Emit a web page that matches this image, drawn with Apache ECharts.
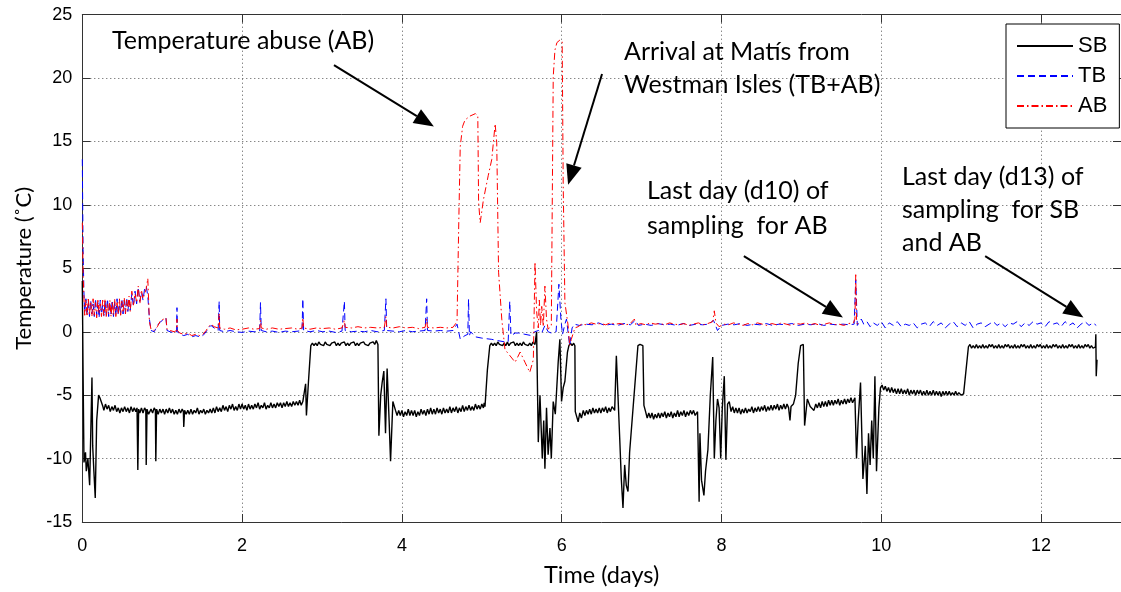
<!DOCTYPE html>
<html>
<head>
<meta charset="utf-8">
<script src="https://cdn.jsdelivr.net/npm/echarts@6/dist/echarts.min.js"></script>
<style>
html,body{margin:0;padding:0;background:#fff;}
#chart{width:1121px;height:592px;}
</style>
</head>
<body>
<div id="chart"></div>
<script>
// ---- Data (time in days, temperature in degC) ----
const xTicks = [0, 2, 4, 6, 8, 10, 12];
const yTicks = [-15, -10, -5, 0, 5, 10, 15, 20, 25];
const seriesNames = ['SB', 'TB', 'AB'];

const sbPoints = [
[0,4.0],[0.009,-2.8],[0.021,-10.3],[0.04,-9.5],[0.05,-11],[0.07,-10],[0.092,-12.1],[0.121,-3.6],[0.13,-9],[0.145,-11],[0.162,-13.1],[0.18,-7],[0.204,-5.0],[0.22,-5.2],[0.258,-5.9],
[0.27,-6.2],[0.29,-5.7],[0.31,-6.1],[0.33,-5.8],[0.35,-6.3],[0.37,-5.9],[0.39,-6.2],[0.41,-5.8],[0.43,-6.3],[0.45,-6.0],[0.47,-6.4],[0.49,-6.0],[0.51,-6.3],[0.53,-5.9],[0.55,-6.3],[0.57,-6.0],[0.59,-6.4],[0.61,-5.9],[0.63,-6.3],[0.65,-6.0],[0.67,-6.3],[0.685,-6.0],[0.695,-10.9],[0.705,-6.1],[0.72,-6.4],[0.74,-6.0],[0.76,-6.4],[0.78,-6.0],[0.795,-6.2],[0.80,-10.5],[0.81,-6.1],[0.83,-6.5],[0.86,-6.1],[0.88,-6.4],[0.90,-6.0],[0.915,-6.2],[0.92,-10.2],[0.93,-6.1],[0.95,-6.5],[0.97,-6.1],[0.99,-6.4],
[1.01,-6.1],[1.03,-6.5],[1.05,-6.1],[1.07,-6.4],[1.09,-6.0],[1.11,-6.4],[1.13,-6.1],[1.15,-6.5],[1.17,-6.2],[1.19,-6.5],[1.21,-6.1],[1.23,-6.4],[1.25,-6.1],[1.265,-6.3],[1.27,-7.5],[1.28,-6.2],[1.30,-6.5],[1.32,-6.2],[1.34,-6.5],[1.36,-6.1],[1.38,-6.5],[1.40,-6.2],[1.42,-6.4],[1.44,-6.0],[1.46,-6.5],[1.48,-6.2],[1.50,-6.4],[1.52,-6.1],[1.54,-6.5],[1.56,-6.2],[1.58,-6.4],[1.60,-6.1],[1.62,-6.4],[1.64,-6.0],[1.66,-6.4],[1.68,-5.9],[1.70,-6.3],[1.72,-6.0],[1.74,-6.3],[1.76,-5.8],[1.78,-6.2],[1.80,-5.9],[1.82,-6.3],[1.84,-5.8],[1.86,-6.1],[1.88,-5.7],[1.90,-6.2],[1.92,-5.9],[1.94,-6.2],[1.96,-5.7],[1.98,-6.1],
[2.00,-5.7],[2.02,-6.1],[2.04,-5.8],[2.06,-6.2],[2.08,-5.7],[2.10,-6.1],[2.12,-5.8],[2.14,-6.1],[2.16,-5.7],[2.18,-6.0],[2.20,-5.6],[2.22,-6.1],[2.24,-5.8],[2.26,-6.0],[2.28,-5.6],[2.30,-6.1],[2.32,-5.8],[2.34,-6.0],[2.36,-5.6],[2.38,-6.0],[2.40,-5.7],[2.42,-6.0],[2.44,-5.6],[2.46,-5.9],[2.48,-5.6],[2.50,-6.0],[2.52,-5.6],[2.54,-5.9],[2.56,-5.5],[2.58,-5.9],[2.60,-5.6],[2.62,-5.9],[2.64,-5.5],[2.66,-5.8],[2.68,-5.5],[2.70,-5.8],[2.72,-5.4],[2.74,-5.8],[2.76,-5.5],[2.785,-5.6],[2.795,-4.1],[2.805,-6.6],[2.83,-4.0],[2.86,-1.1],
[2.88,-0.9],[2.90,-1.1],[2.92,-0.9],[2.94,-1.1],[2.96,-0.8],[2.98,-1.0],[3.00,-0.9],[3.02,-1.1],[3.04,-0.8],[3.06,-1.0],[3.08,-0.9],[3.10,-1.1],[3.12,-0.9],[3.14,-1.0],[3.16,-0.8],[3.18,-1.1],[3.20,-0.9],[3.22,-1.1],[3.24,-0.9],[3.26,-1.0],[3.28,-0.8],[3.30,-1.1],[3.32,-0.9],[3.34,-1.1],[3.36,-0.9],[3.38,-1.0],[3.40,-0.8],[3.42,-1.1],[3.44,-0.9],[3.46,-1.1],[3.48,-0.9],[3.50,-1.0],[3.52,-0.8],[3.54,-1.0],[3.56,-0.9],[3.58,-1.1],[3.60,-0.9],[3.62,-1.0],[3.64,-0.8],[3.66,-1.0],[3.68,-0.7],[3.70,-1.0],
[3.712,-8.2],[3.735,-5],[3.753,-4.0],[3.774,-3.1],[3.795,-8],[3.815,-2.9],[3.84,-7],[3.858,-10.2],[3.887,-5.5],[3.92,-6.2],[3.94,-6.6],[3.96,-6.2],[3.98,-6.6],[4.00,-6.2],[4.02,-6.7],[4.04,-6.3],[4.06,-6.6],[4.08,-6.1],[4.10,-6.6],[4.12,-6.2],[4.14,-6.6],[4.16,-6.2],[4.18,-6.7],[4.20,-6.3],[4.22,-6.6],[4.24,-6.1],[4.26,-6.5],[4.28,-6.2],[4.30,-6.6],[4.32,-6.1],[4.34,-6.5],[4.36,-6.0],[4.38,-6.5],[4.40,-6.1],[4.42,-6.5],[4.44,-6.0],[4.46,-6.4],[4.48,-6.1],[4.50,-6.5],[4.52,-6.0],[4.54,-6.4],[4.56,-6.1],[4.58,-6.4],[4.60,-5.9],[4.62,-6.4],[4.64,-6.0],[4.66,-6.3],[4.68,-5.9],[4.70,-6.4],[4.72,-6.0],[4.74,-6.3],[4.76,-5.8],[4.78,-6.3],[4.80,-5.9],[4.82,-6.2],[4.84,-5.8],[4.86,-6.2],[4.88,-5.9],[4.90,-6.2],[4.92,-5.7],[4.94,-6.1],[4.96,-5.8],[4.98,-6.1],[5.00,-5.7],[5.02,-6.0],[5.03,-5.6],[5.04,-5.9],[5.07,-3.0],[5.10,-1.1],
[5.12,-0.9],[5.14,-1.1],[5.16,-0.9],[5.18,-1.1],[5.20,-0.8],[5.22,-1.0],[5.24,-0.9],[5.26,-1.1],[5.28,-0.9],[5.30,-1.1],[5.32,-0.8],[5.34,-1.1],[5.36,-0.9],[5.38,-1.0],[5.40,-0.8],[5.42,-1.1],[5.44,-0.9],[5.46,-1.1],[5.48,-0.9],[5.50,-1.1],[5.52,-0.8],[5.54,-1.0],[5.56,-0.9],[5.58,-1.1],[5.60,-0.9],[5.62,-1.1],[5.64,-0.8],[5.666,-1.0],
[5.686,0.0],[5.707,-8.7],[5.728,-5.0],[5.757,-10.0],[5.775,-7],[5.79,-10.8],[5.81,-6],[5.83,-9.7],[5.853,-7.6],[5.87,-10],[5.894,-5.5],[5.92,-6.5],[5.956,-2.4],[5.977,-0.6],[5.998,-5.5],[6.019,-4.4],[6.04,-3.9],[6.072,-1.6],[6.09,-1.1],[6.11,-0.9],[6.13,-1.1],[6.15,-0.9],[6.165,-1.1],
[6.17,-6.3],[6.206,-7.1],[6.226,-6.4],[6.247,-6.8],[6.27,-6.2],[6.29,-6.6],[6.31,-6.2],[6.33,-6.5],[6.35,-6.1],[6.37,-6.5],[6.39,-6.0],[6.41,-6.4],[6.43,-6.1],[6.45,-6.4],[6.47,-6.0],[6.49,-6.4],[6.51,-6.0],[6.53,-6.3],[6.55,-5.9],[6.57,-6.4],[6.59,-6.0],[6.61,-6.3],[6.63,-5.9],[6.663,-6.2],
[6.684,-1.9],[6.705,-1.8],[6.726,-8.4],[6.746,-11.6],[6.767,-13.9],[6.788,-10.5],[6.808,-12.1],[6.83,-12.6],[6.85,-9.5],[6.954,-1.1],[6.98,-1.0],[7.016,-1.1],[7.029,-5.8],[7.05,-6.3],
[7.07,-6.8],[7.09,-6.4],[7.11,-6.8],[7.13,-6.4],[7.15,-6.9],[7.17,-6.5],[7.19,-6.8],[7.21,-6.4],[7.23,-6.8],[7.25,-6.4],[7.27,-6.7],[7.29,-6.3],[7.31,-6.8],[7.33,-6.4],[7.35,-6.7],[7.37,-6.3],[7.39,-6.8],[7.41,-6.4],[7.43,-6.7],[7.45,-6.2],[7.47,-6.7],[7.49,-6.3],[7.51,-6.6],[7.53,-6.2],[7.55,-6.7],[7.57,-6.3],[7.59,-6.6],[7.61,-6.2],[7.63,-6.5],[7.65,-6.2],[7.67,-6.6],[7.70,-6.3],
[7.72,-13.4],[7.73,-8],[7.75,-11.7],[7.78,-12.9],[7.80,-11],[7.83,-9.3],[7.86,-5],[7.89,-2.0],[7.91,-10],[7.93,-7],[7.95,-5.3],[7.97,-6],[7.99,-10.0],[8.01,-6],[8.035,-3.5],[8.055,-10.1],[8.076,-5.7],[8.097,-5.5],
[8.12,-6.3],[8.14,-5.9],[8.16,-6.4],[8.18,-6.0],[8.20,-6.4],[8.22,-6.0],[8.24,-6.5],[8.26,-6.1],[8.28,-6.4],[8.30,-6.0],[8.32,-6.4],[8.34,-6.1],[8.36,-6.3],[8.38,-5.9],[8.40,-6.4],[8.42,-6.0],[8.44,-6.3],[8.46,-5.9],[8.48,-6.3],[8.50,-5.9],[8.52,-6.2],[8.54,-5.8],[8.56,-6.3],[8.58,-5.9],[8.60,-6.2],[8.62,-5.8],[8.64,-6.2],[8.66,-5.8],[8.68,-6.1],[8.70,-5.7],[8.72,-6.2],[8.74,-5.8],[8.76,-6.1],[8.78,-5.7],[8.80,-6.1],[8.82,-5.7],[8.84,-6.0],[8.85,-5.9],[8.857,-7.0],[8.87,-5.9],[8.90,-5.7],[8.928,-5.0],[8.96,-2.5],[8.99,-1.1],[9.024,-1.0],[9.04,-7.4],[9.074,-5.3],[9.11,-5.9],[9.157,-6.2],
[9.18,-5.7],[9.20,-6.0],[9.22,-5.6],[9.24,-6.0],[9.26,-5.5],[9.28,-5.9],[9.30,-5.5],[9.32,-5.9],[9.34,-5.4],[9.36,-5.8],[9.38,-5.4],[9.40,-5.8],[9.42,-5.4],[9.44,-5.7],[9.46,-5.3],[9.48,-5.8],[9.50,-5.4],[9.52,-5.7],[9.54,-5.3],[9.56,-5.7],[9.58,-5.3],[9.60,-5.6],[9.62,-5.2],[9.64,-5.6],[9.67,-5.2],
[9.69,-10],[9.71,-7.1],[9.74,-4.0],[9.77,-11.6],[9.80,-9],[9.82,-12.8],[9.84,-8],[9.86,-10.5],[9.88,-7],[9.90,-10],[9.92,-3.5],[9.94,-11.0],[9.97,-6],[9.99,-4.4],
[10.01,-4.2],[10.03,-4.6],[10.05,-4.3],[10.07,-4.7],[10.09,-4.4],[10.11,-4.8],[10.13,-4.4],[10.15,-4.8],[10.17,-4.5],[10.19,-4.9],[10.21,-4.5],[10.23,-4.9],[10.25,-4.5],[10.27,-4.9],[10.29,-4.6],[10.31,-4.9],[10.33,-4.5],[10.35,-5.0],[10.37,-4.6],[10.39,-4.9],[10.41,-4.6],[10.43,-5.0],[10.45,-4.6],[10.47,-4.9],[10.49,-4.6],[10.51,-5.0],[10.53,-4.7],[10.55,-5.0],[10.57,-4.6],[10.59,-5.0],[10.61,-4.7],[10.63,-5.0],[10.65,-4.6],[10.67,-5.0],[10.69,-4.7],[10.71,-5.0],[10.73,-4.7],[10.75,-5.1],[10.77,-4.7],[10.79,-5.0],[10.81,-4.7],[10.83,-5.0],[10.85,-4.7],[10.87,-5.0],[10.89,-4.8],[10.91,-5.0],[10.93,-4.7],[10.95,-5.0],[10.97,-4.8],[11.00,-5.0],[11.03,-4.9],
[11.09,-1.2],[11.11,-1.0],[11.13,-1.3],[11.15,-1.1],[11.17,-1.3],[11.19,-1.0],[11.21,-1.3],[11.23,-1.1],[11.25,-1.3],[11.27,-1.0],[11.29,-1.3],[11.31,-1.1],[11.33,-1.3],[11.35,-1.0],[11.37,-1.2],[11.39,-1.0],[11.41,-1.3],[11.43,-1.1],[11.45,-1.3],[11.47,-1.0],[11.49,-1.3],[11.51,-1.1],[11.53,-1.3],[11.55,-1.0],[11.57,-1.2],[11.59,-1.0],[11.61,-1.3],[11.63,-1.1],[11.65,-1.3],[11.67,-1.0],[11.69,-1.3],[11.71,-1.1],[11.73,-1.3],[11.75,-1.0],[11.77,-1.2],[11.79,-1.0],[11.81,-1.3],[11.83,-1.1],[11.85,-1.3],[11.87,-1.0],[11.89,-1.3],[11.91,-1.1],[11.93,-1.3],[11.95,-1.0],[11.97,-1.2],[11.99,-1.0],[12.01,-1.3],[12.03,-1.1],[12.05,-1.3],[12.07,-1.0],[12.09,-1.3],[12.11,-1.1],[12.13,-1.3],[12.15,-1.0],[12.17,-1.2],[12.19,-1.0],[12.21,-1.3],[12.23,-1.1],[12.25,-1.3],[12.27,-1.0],[12.29,-1.3],[12.31,-1.1],[12.33,-1.3],[12.35,-1.0],[12.37,-1.2],[12.39,-1.0],[12.41,-1.3],[12.43,-1.1],[12.45,-1.3],[12.47,-1.0],[12.49,-1.3],[12.51,-1.1],[12.53,-1.3],[12.55,-1.0],[12.57,-1.2],[12.59,-1.0],[12.61,-1.3],[12.63,-1.1],[12.65,-1.3],[12.68,-1.2],[12.685,-0.2],[12.69,-3.5],[12.70,-2.2]
];

const tbPoints = [
[0,13.6],[0.005,10],[0.01,6.5],[0.02,3.2],[0.03,1.5],[0.045,2.6],[0.06,1.3],[0.075,2.4],[0.09,1.2],[0.105,2.5],[0.12,1.4],[0.135,2.2],[0.15,1.2],[0.165,2.6],[0.18,1.3],[0.195,2.3],[0.21,1.1],[0.225,2.5],[0.24,1.4],[0.255,2.1],[0.27,1.2],[0.285,2.4],[0.30,1.3],[0.315,2.6],[0.33,1.2],[0.345,2.2],[0.36,1.4],[0.375,2.5],[0.39,1.2],[0.405,2.3],[0.42,1.3],[0.435,2.6],[0.45,1.3],[0.465,2.2],[0.48,1.5],[0.495,2.6],[0.51,1.4],[0.525,2.4],[0.54,1.5],[0.555,2.7],[0.57,1.6],[0.585,2.5],[0.60,1.7],[0.62,3.0],[0.64,2.0],[0.66,3.2],[0.68,2.2],[0.70,3.5],[0.72,2.4],[0.74,3.1],[0.76,2.5],[0.78,3.4],[0.80,3.6],[0.82,2.8],[0.84,1.0],[0.86,0.1],
[0.90,0.0],[0.94,0.5],[0.98,0.8],[1.02,0.95],[1.047,1.07],[1.06,0.1],[1.10,0.0],[1.15,-0.1],[1.18,0.0],[1.185,1.9],[1.19,0.0],[1.22,-0.2],[1.27,-0.3],[1.32,-0.2],[1.37,-0.4],[1.42,-0.3],[1.47,-0.4],[1.51,-0.3],[1.55,0.0],[1.58,0.3],[1.61,0.5],[1.65,0.3],[1.70,0.1],[1.713,2.4],[1.72,0.1],[1.78,0.0],[1.85,0.1],[1.92,0.0],
[2.00,-0.05],[2.08,0.05],[2.15,0.0],[2.22,0.05],[2.23,2.3],[2.24,0.1],[2.30,0.0],[2.38,0.05],[2.46,-0.05],[2.54,0.05],[2.62,0.0],[2.70,0.05],[2.75,0.1],[2.76,2.6],[2.77,0.1],[2.85,0.0],[2.93,0.1],[3.01,0.0],[3.09,0.05],[3.17,-0.05],[3.25,0.05],[3.28,2.4],[3.29,0.1],[3.37,0.0],[3.45,0.05],[3.53,0.0],[3.61,0.1],[3.69,0.0],[3.78,0.1],[3.80,2.6],[3.81,0.1],[3.89,0.05],[3.97,0.0],[4.05,0.1],[4.13,0.0],[4.21,0.05],[4.29,0.1],[4.31,2.6],[4.32,0.1],[4.40,0.05],[4.48,0.1],[4.56,0.05],[4.64,0.1],
[4.69,0.6],[4.73,-0.57],[4.79,-0.3],[4.825,-0.2],[4.834,2.57],[4.845,-0.3],[4.86,0.0],[4.92,-0.4],[5.0,-0.5],[5.06,-0.55],[5.125,-0.6],[5.2,-0.7],[5.29,-0.8],[5.33,-0.8],[5.35,2.4],[5.365,-0.3],[5.42,-0.1],[5.46,-0.1],[5.54,-0.2],[5.62,-0.3],[5.66,0.0],[5.71,0.1],[5.75,-0.1],[5.79,0.5],[5.83,0.0],[5.87,-0.1],[5.93,0.0],[5.965,3.75],[5.99,1.0],[6.01,-0.2],[6.04,0.6],[6.06,1.0],[6.10,-1.1],[6.13,0.3],[6.16,0.6],
[6.22,0.5],[6.30,0.6],[6.38,0.55],[6.46,0.7],[6.54,0.5],[6.62,0.6],[6.70,0.5],[6.78,0.65],[6.86,0.55],[6.92,0.9],[6.96,0.5],[7.04,0.6],[7.12,0.5],[7.20,0.65],[7.28,0.55],[7.36,0.6],[7.44,0.5],[7.52,0.65],[7.60,0.5],[7.68,0.6],[7.76,0.55],[7.84,0.6],[7.90,0.9],[7.95,0.1],[8.0,0.5],[8.08,0.6],[8.16,0.55],[8.24,0.65],[8.32,0.5],[8.40,0.6],[8.48,0.55],[8.56,0.65],[8.64,0.5],[8.72,0.6],[8.80,0.55],[8.88,0.65],[8.96,0.5],[9.04,0.6],[9.12,0.55],[9.20,0.65],[9.28,0.5],[9.36,0.6],[9.44,0.55],[9.52,0.6],[9.60,0.55],[9.66,0.6],[9.68,4.1],[9.70,0.5],
[9.75,1.0],[9.78,0.6],[9.82,0.8],[9.86,0.4],[9.90,0.7],[9.95,0.5],[10.0,0.8],[10.05,0.3],[10.10,0.7],[10.15,0.5],[10.20,0.8],[10.25,0.4],[10.30,0.6],[10.35,0.5],[10.40,0.7],[10.45,0.3],[10.50,0.6],[10.55,0.7],[10.60,0.4],[10.65,0.8],[10.70,0.5],[10.75,0.7],[10.80,0.3],[10.85,0.6],[10.90,0.8],[10.95,0.4],[11.00,0.7],[11.05,0.5],[11.10,0.8],[11.15,0.3],[11.20,0.6],[11.25,0.7],[11.30,0.4],[11.35,0.6],[11.40,0.8],[11.45,0.5],[11.50,0.7],[11.55,0.4],[11.60,0.7],[11.65,0.6],[11.70,0.8],[11.75,0.4],[11.80,0.7],[11.85,0.5],[11.90,0.8],[11.95,0.6],[12.00,0.7],[12.05,0.4],[12.10,0.8],[12.15,0.6],[12.20,0.7],[12.25,0.4],[12.30,0.8],[12.35,0.5],[12.40,0.7],[12.45,0.3],[12.50,0.6],[12.55,0.8],[12.60,0.5],[12.65,0.7],[12.69,0.5]
];

const abPoints = [
[0,8.6],[0.005,7],[0.01,4.5],[0.02,2.8],[0.03,1.3],[0.045,2.5],[0.06,1.2],[0.075,2.7],[0.09,1.4],[0.105,2.4],[0.12,1.2],[0.135,2.6],[0.15,1.3],[0.165,2.3],[0.18,1.1],[0.195,2.6],[0.21,1.4],[0.225,2.2],[0.24,1.2],[0.255,2.5],[0.27,1.3],[0.285,2.6],[0.30,1.1],[0.315,2.3],[0.33,1.4],[0.345,2.5],[0.36,1.2],[0.375,2.4],[0.39,1.3],[0.405,2.6],[0.42,1.2],[0.435,2.3],[0.45,1.4],[0.465,2.6],[0.48,1.3],[0.495,2.4],[0.51,1.5],[0.525,2.7],[0.54,1.4],[0.555,2.5],[0.57,1.7],[0.585,2.8],[0.60,1.6],[0.62,3.2],[0.64,2.1],[0.66,3.0],[0.68,2.3],[0.70,3.6],[0.72,2.2],[0.74,3.3],[0.76,2.6],[0.78,3.0],[0.80,3.4],[0.82,4.2],[0.83,2.5],[0.84,0.8],[0.86,0.2],
[0.90,0.1],[0.94,0.4],[0.98,0.9],[1.02,1.0],[1.047,1.1],[1.06,0.2],[1.10,0.1],[1.15,0.0],[1.18,0.1],[1.185,1.0],[1.19,0.1],[1.22,-0.1],[1.27,-0.2],[1.32,-0.1],[1.37,-0.3],[1.42,-0.2],[1.47,-0.3],[1.51,-0.2],[1.55,0.1],[1.58,0.4],[1.61,0.6],[1.65,0.4],[1.70,0.3],[1.713,1.4],[1.72,0.3],[1.78,0.2],[1.85,0.3],[1.92,0.15],
[2.00,0.2],[2.08,0.3],[2.15,0.2],[2.22,0.25],[2.23,0.9],[2.24,0.3],[2.30,0.2],[2.38,0.3],[2.46,0.2],[2.54,0.25],[2.62,0.3],[2.70,0.2],[2.75,0.3],[2.76,1.1],[2.77,0.3],[2.85,0.2],[2.93,0.3],[3.01,0.25],[3.09,0.3],[3.17,0.2],[3.25,0.3],[3.28,0.9],[3.29,0.35],[3.37,0.3],[3.45,0.4],[3.53,0.3],[3.61,0.35],[3.69,0.3],[3.78,0.35],[3.80,1.2],[3.81,0.35],[3.89,0.3],[3.97,0.4],[4.05,0.3],[4.13,0.35],[4.21,0.25],[4.29,0.35],[4.31,1.0],[4.32,0.35],[4.40,0.3],[4.48,0.35],[4.56,0.3],[4.64,0.35],
[4.69,0.8],[4.71,8],[4.73,14.6],[4.76,16.2],[4.79,16.7],[4.85,17.0],[4.92,17.2],[4.95,17.0],[4.96,10.2],[4.98,8.6],[5.02,10.4],[5.08,12.3],[5.125,13.6],[5.167,16.4],[5.187,14.9],[5.21,4.7],[5.25,1.0],[5.29,-1.4],[5.354,-1.9],[5.417,-2.4],[5.48,-1.6],[5.54,-2.4],[5.60,-3.2],[5.645,-2.2],
[5.666,5.5],[5.686,1.6],[5.707,0.3],[5.72,2.5],[5.735,0.5],[5.75,2.0],[5.77,0.4],[5.79,3.6],[5.81,1.0],[5.83,0.2],[5.87,0.5],[5.894,20.1],[5.915,22.2],[5.94,22.8],[5.977,23.0],[6.006,22.9],[6.019,11.5],[6.04,2.3],[6.08,0.5],[6.10,-1.1],[6.12,-0.6],[6.165,0.3],[6.205,0.4],
[6.25,0.6],[6.31,0.55],[6.37,0.7],[6.43,0.6],[6.49,0.65],[6.55,0.55],[6.61,0.7],[6.67,0.6],[6.73,0.65],[6.79,0.55],[6.85,0.6],[6.91,1.0],[6.93,0.5],[6.99,0.65],[7.05,0.55],[7.11,0.7],[7.17,0.6],[7.23,0.65],[7.29,0.55],[7.35,0.7],[7.41,0.6],[7.47,0.55],[7.53,0.65],[7.59,0.5],[7.65,0.6],[7.71,0.7],[7.77,0.55],[7.83,0.65],[7.89,0.8],[7.91,1.65],[7.93,0.7],[7.97,0.4],
[8.03,0.6],[8.09,0.55],[8.15,0.7],[8.21,0.6],[8.27,0.5],[8.33,0.65],[8.39,0.55],[8.45,0.7],[8.51,0.6],[8.57,0.5],[8.63,0.65],[8.69,0.55],[8.75,0.7],[8.81,0.6],[8.87,0.5],[8.93,0.65],[8.99,0.6],[9.05,0.7],[9.11,0.55],[9.17,0.65],[9.23,0.5],[9.29,0.6],[9.35,0.7],[9.41,0.55],[9.47,0.6],[9.53,0.5],[9.59,0.65],[9.65,0.7],[9.67,1.0],[9.68,4.5],[9.69,1.0],[9.70,0.6]
];

// annotation arrows (data coordinates): tail -> tip
const arrowTails = [[3.15,21.03],[6.505,20.32],[8.28,5.97],[11.30,5.97]];
const arrowTips  = [[4.40,16.18],[6.08,11.6],[9.52,1.13],[12.53,1.13]];

// annotation text lines: [text, left px, centre y px]
const notes = [
  ['Temperature abuse (AB)', 112, 41],
  ['Arrival at Matís from', 624, 52],
  ['Westman Isles (TB+AB)', 624, 85],
  ['Last day (d10) of', 647, 191],
  ['sampling  for AB', 647, 226],
  ['Last day (d13) of', 902, 177],
  ['sampling  for SB', 902, 210],
  ['and AB', 902, 243]
];

const chart = echarts.init(document.getElementById('chart'), null, {renderer: 'canvas'});
const tickFont = 'Liberation Sans';
const noteFont = 'Lato';
const axisColor = '#333';
const gridStyle = {type: [1, 3], color: '#555', width: 1};

function baseX(pos, main) {
  return {
    type: 'value', position: pos, min: 0, max: 13, interval: 2,
    axisLine: {show: true, onZero: false, lineStyle: {color: axisColor, width: 1}},
    axisTick: {show: true, inside: true, length: 8, lineStyle: {color: axisColor}},
    axisLabel: {show: main, fontSize: 18, fontFamily: tickFont, color: '#000', margin: 15, showMaxLabel: false},
    splitLine: {show: main, lineStyle: gridStyle},
    name: main ? 'Time (days)' : '', nameLocation: 'middle', nameGap: 41,
    nameTextStyle: {fontSize: 23.5, fontFamily: noteFont, color: '#000'}
  };
}
function baseY(pos, main) {
  return {
    type: 'value', position: pos, min: -15, max: 25, interval: 5,
    axisLine: {show: true, onZero: false, lineStyle: {color: axisColor, width: 1}},
    axisTick: {show: true, inside: true, length: 8, lineStyle: {color: axisColor}},
    axisLabel: {show: main, fontSize: 18, fontFamily: tickFont, color: '#000', margin: 10},
    splitLine: {show: main, lineStyle: gridStyle},
    name: main ? 'Temperature (\u02DAC)' : '', nameLocation: 'middle', nameGap: 44,
    nameTextStyle: {fontSize: 22, fontFamily: noteFont, color: '#000'}
  };
}

const styles = [
  {color: '#000000', type: 'solid', width: 1.4},
  {color: '#0000ff', type: [7, 4], width: 1},
  {color: '#ff0000', type: [7, 3, 1.5, 3], width: 1}
];
const datasets = [sbPoints, tbPoints, abPoints];

chart.setOption({
  animation: false,
  backgroundColor: '#ffffff',
  grid: {left: 82.3, top: 14.7, width: 1042.6, height: 509.3, containLabel: false},
  xAxis: [baseX('bottom', true), baseX('top', false)],
  yAxis: [baseY('left', true), baseY('right', false)],
  legend: {
    left: 1006, top: 24, orient: 'vertical',
    itemWidth: 56, itemHeight: 12, itemGap: 8,
    backgroundColor: '#fff', borderColor: '#000', borderWidth: 1,
    padding: [11, 12, 11, 10],
    itemStyle: {opacity: 0, borderWidth: 0},
    textStyle: {fontSize: 22, fontFamily: tickFont, color: '#000', padding: [0,0,0,0]},
    data: seriesNames
  },
  series: seriesNames.map((n, i) => ({
    name: n, type: 'line', data: datasets[i],
    showSymbol: false, symbol: 'none', sampling: null,
    lineStyle: {color: styles[i].color, width: styles[i].width, type: styles[i].type},
    itemStyle: {color: styles[i].color},
    z: 2 + i
  }))
});

// annotations (arrows anchored in data coordinates)
const graphics = [];
arrowTails.forEach((t, i) => {
  const p0 = chart.convertToPixel({gridIndex: 0}, t);
  const p1 = chart.convertToPixel({gridIndex: 0}, arrowTips[i]);
  const dx = p1[0] - p0[0], dy = p1[1] - p0[1];
  const L = Math.sqrt(dx * dx + dy * dy);
  const ux = dx / L, uy = dy / L;
  const head = 20, half = 8;
  const bx = p1[0] - ux * head, by = p1[1] - uy * head;
  graphics.push({type: 'line', shape: {x1: p0[0], y1: p0[1], x2: bx, y2: by}, style: {stroke: '#000', lineWidth: 2}, z: 50});
  graphics.push({type: 'polygon', shape: {points: [[p1[0], p1[1]], [bx - uy * half, by + ux * half], [bx + uy * half, by - ux * half]]}, style: {fill: '#000'}, z: 50});
});
notes.forEach(n => {
  graphics.push({type: 'text', x: n[1], y: n[2], z: 60,
    style: {text: n[0], font: '25px ' + noteFont, fill: '#000', textVerticalAlign: 'middle', textAlign: 'left'}});
});
chart.setOption({graphic: graphics});
</script>
</body>
</html>
